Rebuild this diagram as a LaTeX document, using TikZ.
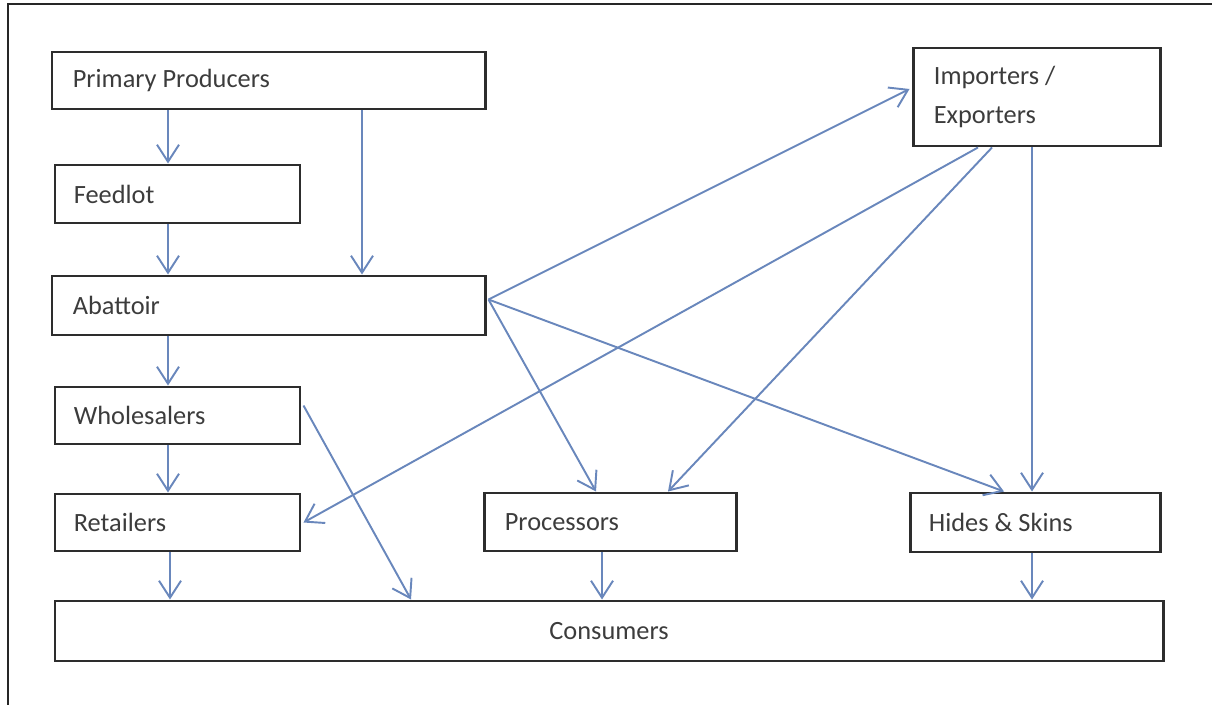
\documentclass[tikz,border=0pt]{standalone}
\usepackage{fontspec}
\setmainfont{Carlito}
\usetikzlibrary{arrows.meta,fit,calc}
\definecolor{boxline}{RGB}{45,45,45}
\definecolor{arrowblue}{RGB}{105,135,188}
\definecolor{txt}{RGB}{60,60,60}
\tikzset{
  box/.style={draw=boxline, line width=1.7pt, inner sep=0pt, fill=none},
  lbl/.style={anchor=west, inner sep=0pt, text=txt, font=\fontsize{15}{18}\selectfont},
  arr/.style={draw=arrowblue, line width=1.1pt,
    -{Straight Barb[length=3.4mm, width=4.4mm, line width=1.1pt]}},
  frame/.style={draw=black!85, line width=1.6pt}
}
\begin{document}
\begin{tikzpicture}[x=0.02cm, y=-0.02cm]
\useasboundingbox (0,0) rectangle (1212,705);
% outer frame (top and left edges visible)
\draw[frame] (8,705) -- (8,4) -- (1212,4);

% boxes
\node[box, fit={(52,52)(485,109)}] (pp) {};
\node[box, fit={(55,165)(300,223)}] (fl) {};
\node[box, fit={(52,276)(485,335)}] (ab) {};
\node[box, fit={(55,387)(300,444)}] (wh) {};
\node[box, fit={(55,494)(300,551)}] (re) {};
\node[box, fit={(484,493)(736,551)}] (pr) {};
\node[box, fit={(910,493)(1160,552)}] (hs) {};
\node[box, fit={(55,601)(1163,661)}] (co) {};
\node[box, fit={(913,48)(1160,146)}] (ie) {};

% labels
\node[lbl] (tpp) at ($(pp.west)+(22,0)$) {Primary Producers};
\node[lbl] (tfl) at ($(fl.west)+(20,0)$) {Feedlot};
\node[lbl] (tab) at ($(ab.west)+(22,0)$) {Abattoir};
\node[lbl] (twh) at ($(wh.west)+(20,0)$) {Wholesalers};
\node[lbl] (tre) at ($(re.west)+(20,0)$) {Retailers};
\node[lbl] (tpr) at ($(pr.west)+(22,0)$) {Processors};
\node[lbl] (ths) at ($(hs.west)+(20,0)$) {Hides \& Skins};
\node[lbl, anchor=center] (tco) at (co.center) {Consumers};
\node[lbl, align=left] (tie) at ($(ie.west)+(22,0)$) {Importers /\\[4pt]Exporters};

% connection points
\coordinate (abE) at ($(ab.north east)+(2,25)$);
\coordinate (whE) at ($(wh.north east)+(2,20)$);

% vertical arrows
\draw[arr] (168,0 |- pp.south) -- (168,0 |- fl.north);
\draw[arr] (168,0 |- fl.south) -- (168,0 |- ab.north);
\draw[arr] (362,0 |- pp.south) -- (362,0 |- ab.north);
\draw[arr] (168,0 |- ab.south) -- (168,0 |- wh.north);
\draw[arr] (168,0 |- wh.south) -- (168,0 |- re.north);
\draw[arr] (170,0 |- re.south) -- (170,0 |- co.north);
\draw[arr] (602,0 |- pr.south) -- (602,0 |- co.north);
\draw[arr] (1032,0 |- hs.south) -- (1032,0 |- co.north);
\draw[arr] (1032,0 |- ie.south) -- (1032,0 |- hs.north);

% diagonal arrows
\draw[arr] (abE) -- ($(ie.west)+(-2,-8)$);
\draw[arr] (abE) -- (596,0 |- pr.north);
\draw[arr] (abE) -- (1004,0 |- hs.north);
\draw[arr] (whE) -- (411,0 |- co.north);
\draw[arr] (978,0 |- ie.south) -- ($(re.east)+(2,0)$);
\draw[arr] (992,0 |- ie.south) -- (668,0 |- pr.north);
\end{tikzpicture}
\end{document}
